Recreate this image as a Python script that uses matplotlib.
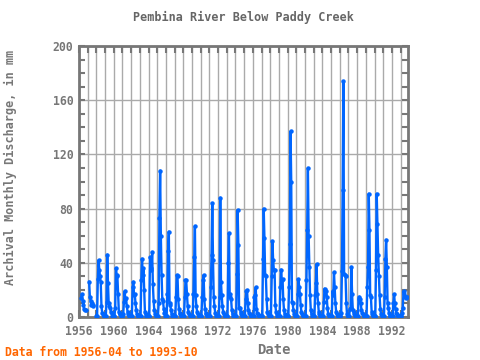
import numpy as np
import matplotlib
matplotlib.use("Agg")
import matplotlib.pyplot as plt
from matplotlib.ticker import MultipleLocator

nan = np.nan

# monthly discharge (mm), one row per year, Jan..Dec; series starts 1956-04
flow_1950s = [
    14, 17, 12, 9, 6, 5, 5, nan, nan,                 # 1956 (Apr-Dec)
    nan, nan, 26, 15, 12, 9, 10, 9, 8, nan, nan, nan,  # 1957
    1, 1, 28, 42, 35, 30, 26, 8, 3, 2, 1, 1,           # 1958
    1, 1, 11, 46, 25, 10, 8, 7, 4, 3, 1, 1,            # 1959
]
flow_1960s = [
    1, 1, 7, 36, 31, 30, 17, 4, 2, 2, 1, 1,            # 1960
    1, 2, 11, 19, 13, 14, 8, 4, 2, 1, 1, 1,            # 1961
    1, 1, 22, 26, 16, 17, 10, 5, 2, 1, 1, 1,           # 1962
    1, 1, 27, 43, 31, 36, 20, 4, 2, 1, 1, 1,           # 1963
    1, 1, 44, 36, 35, 48, 24, 12, 5, 2, 1, 1,          # 1964
    1, 1, 10, 73, 108, 60, 31, 13, 12, 6, 3, 1,        # 1965
    1, 1, 17, 49, 63, 10, 9, 5, 2, 1, 1, 1,            # 1966
    1, 1, 15, 31, 30, 13, 6, 3, 2, 1, 1, 1,            # 1967
    1, 1, 15, 27, 27, 17, 8, 4, 2, 1, 1, 1,            # 1968
    1, 1, 17, 44, 67, 16, 8, 4, 2, 1, 1, 1,            # 1969
]
flow_1970s = [
    1, 1, 15, 27, 31, 13, 6, 3, 2, 1, 1, 1,            # 1970
    1, 1, 22, 46, 84, 42, 15, 8, 3, 1, 1, 1,           # 1971
    1, 1, 15, 88, 26, 16, 8, 4, 2, 1, 1, 1,            # 1972
    1, 1, 40, 62, 17, 15, 13, 5, 2, 1, 1, 1,           # 1973
    1, 1, 32, 79, 53, 7, 7, 4, 2, 1, 1, 1,             # 1974
    1, 1, 13, 19, 20, 10, 5, 3, 2, 1, 1, 1,            # 1975
    1, 1, 15, 16, 22, 6, 3, 2, 1, 1, 1, 1,             # 1976
    1, 1, 43, 80, 58, 31, 30, 13, 4, 2, 1, 1,          # 1977
    1, 1, 30, 56, 42, 35, 35, 9, 4, 2, 1, 1,           # 1978
    1, 1, 22, 35, 27, 28, 13, 5, 2, 1, 1, 1,           # 1979
]
flow_1980s = [
    1, 1, 22, 54, 137, 100, 11, 10, 5, 2, 1, 1,        # 1980
    1, 1, 17, 28, 22, 17, 9, 4, 2, 1, 1, 1,            # 1981
    1, 1, 27, 64, 110, 60, 37, 16, 5, 2, 1, 1,         # 1982
    1, 1, 16, 25, 39, 17, 10, 4, 2, 1, 1, 1,           # 1983
    1, 1, 11, 21, 17, 19, 15, 7, 2, 1, 1, 1,           # 1984
    1, 1, 19, 16, 33, 22, 10, 4, 2, 1, 1, 1,           # 1985
    1, 1, 3, 34, 94, 174, 32, 31, 30, 10, 2, 1,        # 1986
    1, 1, 6, 7, 37, 17, 5, 4, 2, 1, 1, 1,              # 1987
    1, 1, 13, 15, 13, 10, 5, 3, 2, 1, 1, 1,            # 1988
    1, 1, 22, 37, 91, 64, 16, 15, 4, 2, 1, 1,          # 1989
]
flow_1990s = [
    1, 1, 35, 91, 69, 46, 30, 16, 6, 2, 1, 1,          # 1990
    1, 1, 15, 43, 57, 37, 10, 7, 3, 1, 1, 1,           # 1991
    1, 1, 10, 17, 10, 6, 3, 2, 1, 1, 1, 1,             # 1992
    1, 1, 3, 7, 19, 17, 15, 14, 15, 15,                # 1993 (Jan-Oct)
]

flow = np.array(flow_1950s + flow_1960s + flow_1970s + flow_1980s + flow_1990s, dtype=float)
start_year, start_month = 1956, 4
t = start_year + (start_month - 1 + np.arange(len(flow))) / 12.0

grey = "#777777"
mono = "DejaVu Sans Mono"

fig = plt.figure(figsize=(4.8, 3.6), dpi=100)
ax = fig.add_axes([79 / 480, 1 - 317 / 360, (408 - 79) / 480, (317 - 46) / 360])

ax.plot(t, flow, color="#0066ff", lw=1.7, marker="o", ms=2.2, mec="#0066ff", zorder=3)

ax.set_xlim(1956.0, 1993.85)
ax.set_ylim(0, 200)

ax.xaxis.set_major_locator(MultipleLocator(4))
ax.xaxis.set_minor_locator(MultipleLocator(1))
ax.yaxis.set_major_locator(MultipleLocator(40))
ax.yaxis.set_minor_locator(MultipleLocator(10))

ax.grid(True, which="major", axis="both", color="#aaaaaa", lw=1.0)
ax.grid(True, which="minor", axis="x", color="#aaaaaa", lw=1.0)
ax.set_axisbelow(True)

ax.tick_params(which="both", direction="in", top=True, right=True, color=grey,
               width=1.5, labelcolor=grey, labelsize=8.3)
ax.tick_params(axis="x", which="both", length=5, pad=6)
ax.tick_params(axis="y", which="both", length=4, pad=4)
for lab in ax.get_xticklabels() + ax.get_yticklabels():
    lab.set_family(mono)
    lab.set_fontweight("bold")

for sp in ax.spines.values():
    sp.set_color(grey)
    sp.set_linewidth(2)

ax.set_xlabel("Date", family=mono, fontsize=10, fontweight="bold", color=grey)
ax.xaxis.set_label_coords((274 - 79) / 329, -0.095)
ax.set_ylabel("Archival Monthly Discharge, in mm", family=mono, fontsize=8.5,
              fontweight="bold", color=grey)
ax.yaxis.set_label_coords(-(79 - 17) / 329, 0.552)

fig.text((79 + 408) / 2 / 480, 1 - 17 / 360, "Pembina River Below Paddy Creek",
         family=mono, fontsize=8.5, fontweight="bold", color="#666666",
         ha="center", va="center")
fig.text(5 / 480, 1 - 352 / 360, "Data from 1956-04 to 1993-10", family=mono,
         fontsize=8.3, fontweight="bold", color="#ff6600", ha="left", va="center")

fig.savefig("out.png", dpi=100)
